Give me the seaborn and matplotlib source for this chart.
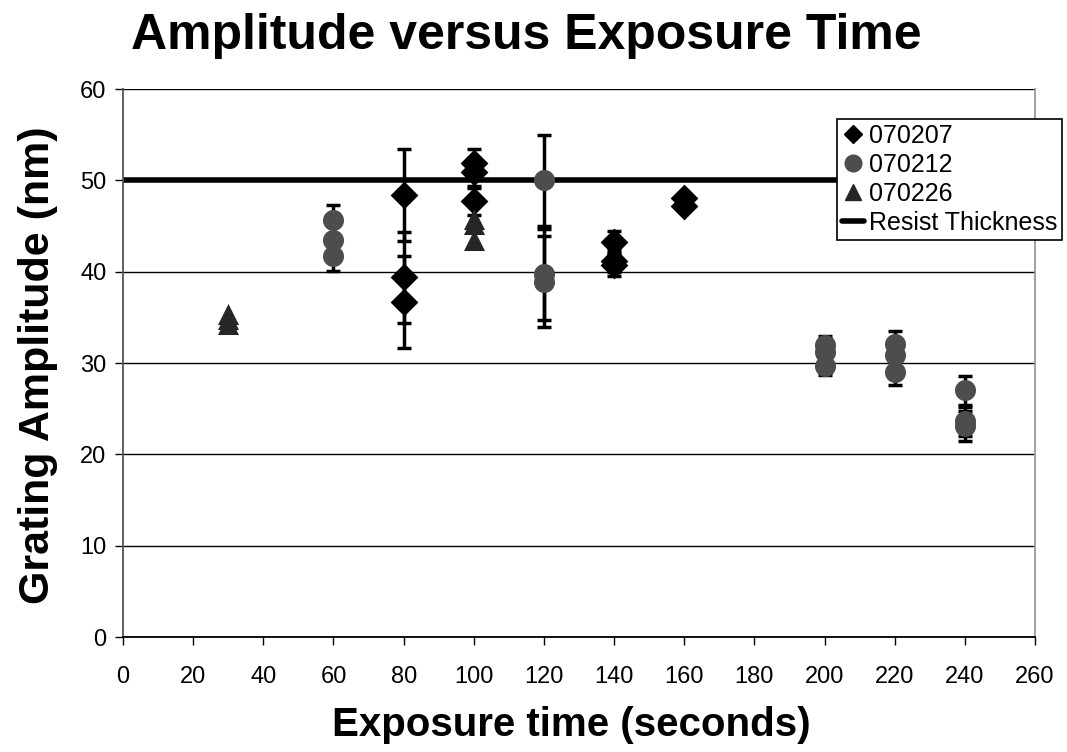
import numpy as np
import pandas as pd
import matplotlib
matplotlib.use("Agg")
import matplotlib.pyplot as plt
from matplotlib.lines import Line2D
import seaborn as sns

# Measured grating amplitudes (nm) per sample batch, with error bars
t_070207 = [80, 80, 80, 100, 100, 100, 140, 140, 140, 160, 160]
a_070207 = [48.4, 39.4, 36.7, 51.9, 50.9, 47.7, 43.3, 41.2, 40.7, 48.1, 47.2]
e_070207 = [5.0, 5.0, 5.0, 1.5, 1.5, 1.5, 1.2, 1.2, 1.2, 0.4, 0.4]

t_070212 = [60, 60, 60, 120, 120, 120, 200, 200, 200, 220, 220, 220, 240, 240, 240]
a_070212 = [45.7, 43.5, 41.7, 50.0, 39.7, 38.9, 32.0, 31.2, 29.7, 32.1, 30.9, 29.0, 27.0, 23.6, 23.1]
e_070212 = [1.6, 1.6, 1.6, 5.0, 5.0, 5.0, 1.0, 1.0, 1.0, 1.4, 1.4, 1.4, 1.6, 1.6, 1.6]

t_070226 = [30, 30, 30, 100, 100, 100]
a_070226 = [35.4, 34.8, 34.3, 45.8, 45.2, 43.5]
e_070226 = [0.0, 0.0, 0.0, 0.0, 0.0, 0.0]

resist_thickness = 50
series_names = ["070207", "070212", "070226"]
x_ticks = list(range(0, 261, 20))
y_ticks = list(range(0, 61, 10))

df = pd.concat([
    pd.DataFrame({"time": t_070207, "amp": a_070207, "err": e_070207, "batch": "070207"}),
    pd.DataFrame({"time": t_070212, "amp": a_070212, "err": e_070212, "batch": "070212"}),
    pd.DataFrame({"time": t_070226, "amp": a_070226, "err": e_070226, "batch": "070226"}),
], ignore_index=True)

sns.set_theme(style="white")
plt.rcParams["font.family"] = ["Liberation Sans", "DejaVu Sans"]
plt.rcParams["text.color"] = "black"
plt.rcParams["xtick.color"] = "black"
plt.rcParams["ytick.color"] = "black"

colors = {"070207": "#000000", "070212": "#4d4d4d", "070226": "#262626"}
markers = {"070207": "D", "070212": "o", "070226": "^"}
sizes = {"070207": 200, "070212": 230, "070226": 230}

fig = plt.figure(figsize=(10.67, 7.52), dpi=100)
ax = fig.add_axes([0.1153, 0.1529, 0.8547, 0.7287])

ax.set_xlim(0, 260)
ax.set_ylim(0, 60)
ax.set_yticks(y_ticks)
ax.set_xticks(x_ticks)
ax.yaxis.grid(True, color="black", linewidth=1.0)
ax.set_axisbelow(True)

# resist thickness reference line
ax.axhline(resist_thickness, color="black", linewidth=4, zorder=2)

# error bars
for name in series_names:
    sub = df[(df["batch"] == name) & (df["err"] > 0)]
    if len(sub):
        ax.errorbar(sub["time"], sub["amp"], yerr=sub["err"], fmt="none",
                    ecolor="black", elinewidth=2.5, capsize=5, capthick=2.5, zorder=3)

for name in series_names:
    sub = df[df["batch"] == name]
    sns.scatterplot(data=sub, x="time", y="amp", ax=ax, marker=markers[name],
                    color=colors[name], s=sizes[name], edgecolor=colors[name],
                    linewidth=0, legend=False, zorder=4)

ax.set_xlabel("")
ax.set_ylabel("")
ax.tick_params(axis="both", which="major", labelsize=17, direction="out",
               length=6, width=1, color="black", labelcolor="black",
               bottom=True, left=True)
ax.tick_params(axis="x", pad=15)
ax.tick_params(axis="y", pad=6)

ax.spines["top"].set_visible(False)
ax.spines["left"].set_color("#555555")
ax.spines["right"].set_color("#999999")
ax.spines["bottom"].set_color("black")
for s in ax.spines.values():
    s.set_linewidth(1.3)

handles = [
    Line2D([], [], linestyle="none", marker="D", color="#000000", markersize=9),
    Line2D([], [], linestyle="none", marker="o", color="#4d4d4d", markersize=12),
    Line2D([], [], linestyle="none", marker="^", color="#262626", markersize=12),
    Line2D([], [], color="black", linewidth=4),
]
labels = series_names + ["Resist Thickness"]
leg = ax.legend(handles, labels, loc="upper right", bbox_to_anchor=(0.9953, 0.8418),
                bbox_transform=fig.transFigure, borderaxespad=0, fontsize=18,
                frameon=True, fancybox=False, framealpha=1, edgecolor="black",
                handlelength=0.85, handletextpad=0.2, borderpad=0.2, labelspacing=0.2)
leg.get_frame().set_linewidth(1.2)
leg.set_zorder(10)
for t in leg.get_texts():
    t.set_color("black")

fig.text(0.493, 0.952, "Amplitude versus Exposure Time", ha="center", va="center",
         fontsize=36, fontweight="bold", color="black")
fig.text(0.535, 0.036, "Exposure time (seconds)", ha="center", va="center",
         fontsize=29, fontweight="bold", color="black")
fig.text(0.036, 0.515, "Grating Amplitude (nm)", ha="center", va="center",
         fontsize=31, fontweight="bold", rotation=90, color="black")

fig.savefig("out.png", dpi=100, facecolor="white")
